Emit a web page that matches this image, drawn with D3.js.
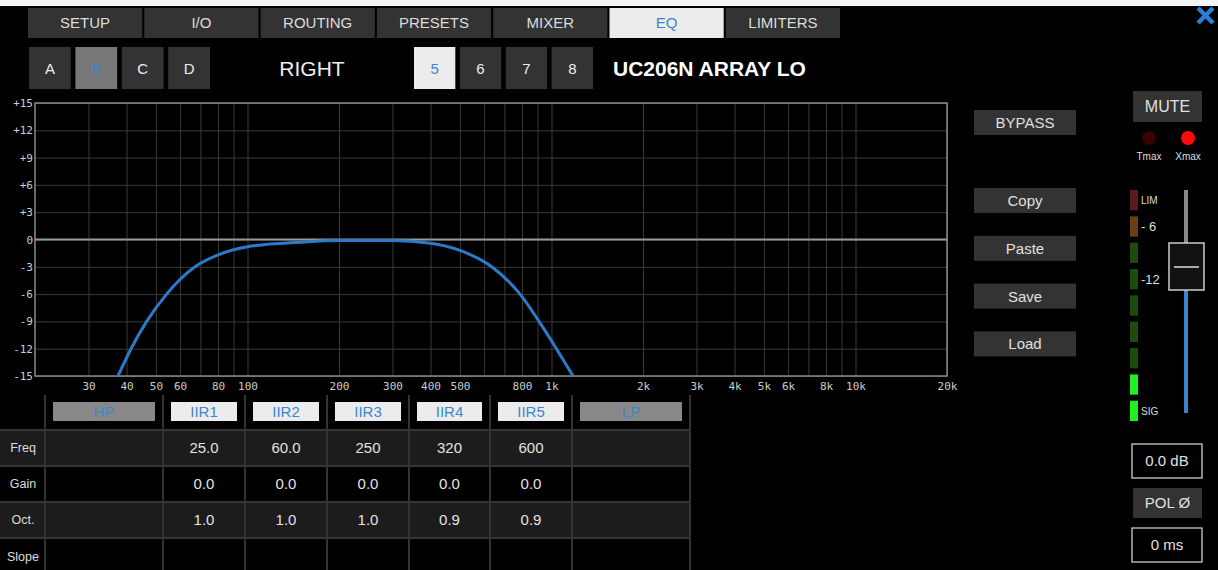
<!DOCTYPE html>
<html>
<head>
<meta charset="utf-8">
<script src="https://cdn.jsdelivr.net/npm/d3@7"></script>
<style>
  html, body { margin: 0; padding: 0; background: #000; }
  svg { display: block; font-family: "Liberation Sans", Arial, sans-serif; }
</style>
</head>
<body>
<div id="eq"></div>
<script>
// ---- data ----
const tabs = ["SETUP", "I/O", "ROUTING", "PRESETS", "MIXER", "EQ", "LIMITERS"];
const activeTab = "EQ";
const groups = ["A", "B", "C", "D"];
const activeGroup = "B";
const outputs = ["5", "6", "7", "8"];
const activeOutput = "5";
const sideLabel = "RIGHT";
const channelName = "UC206N ARRAY LO";

const freqLabels = [30, 40, 50, 60, 80, 100, 200, 300, 400, 500, 800, 1000, 2000, 3000, 4000, 5000, 6000, 8000, 10000, 20000];
const gridFreqs = [30, 40, 50, 60, 70, 80, 90, 100, 200, 300, 400, 500, 600, 700, 800, 900,
                   1000, 2000, 3000, 4000, 5000, 6000, 7000, 8000, 9000, 10000, 20000];
const dbTicks = [15, 12, 9, 6, 3, 0, -3, -6, -9, -12, -15];

// response curve, [Hz, dB]
const responseFreq = [37.5, 41.4, 46.6, 54.2, 67.2, 80, 100, 150, 200, 300, 400, 500, 636, 788, 910, 1038, 1177];
const responseGain = [-15, -12, -9, -6, -3, -1.7, -0.8, -0.3, -0.12, -0.12, -0.4, -1.2, -3, -6, -9, -12, -15];

const filters = ["HP", "IIR1", "IIR2", "IIR3", "IIR4", "IIR5", "LP"];
const filterOn = [false, true, true, true, true, true, false];
const rowNames = ["Freq", "Gain", "Oct.", "Slope"];
const freqVals = ["", "25.0", "60.0", "250", "320", "600", ""];
const gainVals = ["", "0.0", "0.0", "0.0", "0.0", "0.0", ""];
const octVals = ["", "1.0", "1.0", "1.0", "0.9", "0.9", ""];
const slopeVals = ["", "", "", "", "", "", ""];

const actions = ["Copy", "Paste", "Save", "Load"];
const meterSegs = ["LIM", "-6", "g", "-12", "g", "g", "g", "sig", "SIG"];
const meterColors = { "LIM": "#5a1c1c", "-6": "#6b3e16", "-12": "#1f4a10", "g": "#1f4a10", "sig": "#22ee22", "SIG": "#22ee22" };
const meterText = { "LIM": "LIM", "-6": "- 6", "-12": "-12", "SIG": "SIG" };
const gainText = "0.0 dB";
const delayText = "0 ms";

// ---- drawing ----
const W = 1218, H = 570;
const blue = "#3a86d0";
const svg = d3.select("#eq").append("svg").attr("width", W).attr("height", H);
svg.append("rect").attr("width", W).attr("height", H).attr("fill", "#000");
svg.append("rect").attr("width", W).attr("height", 6).attr("fill", "#f4f4f4");

// top tabs
const tabX = d3.scaleBand().domain(tabs).range([28, 840]).paddingInner(0.018);
const tab = svg.selectAll(".tab").data(tabs).join("g").attr("class", "tab")
  .attr("transform", d => `translate(${tabX(d)},8)`);
tab.append("rect").attr("width", tabX.bandwidth()).attr("height", 30)
  .attr("fill", d => d === activeTab ? "#ececec" : "#333");
tab.append("text").attr("x", tabX.bandwidth() / 2).attr("y", 20).attr("text-anchor", "middle")
  .attr("font-size", 15).attr("fill", d => d === activeTab ? blue : "#ddd").text(d => d);

// close X
svg.append("path").attr("d", "M1198,8 L1213,23 M1213,8 L1198,23")
  .attr("stroke", "#2a7fd4").attr("stroke-width", 4.5);

// selector buttons
function buttons(list, active, x0, x1) {
  const bx = d3.scaleBand().domain(list).range([x0, x1]).paddingInner(0.1);
  const g = svg.append("g").selectAll("g").data(list).join("g")
    .attr("transform", d => `translate(${bx(d)},47)`);
  g.append("rect").attr("width", bx.bandwidth()).attr("height", 42)
    .attr("fill", d => d === active ? (list === groups ? "#777" : "#ececec") : "#333");
  g.append("text").attr("x", bx.bandwidth() / 2).attr("y", 27).attr("text-anchor", "middle")
    .attr("font-size", 15).attr("fill", d => d === active ? blue : "#eee").text(d => d);
}
buttons(groups, activeGroup, 29, 210);
buttons(outputs, activeOutput, 414, 593);
svg.append("text").attr("x", 312).attr("y", 76).attr("text-anchor", "middle")
  .attr("font-size", 21).attr("fill", "#eee").text(sideLabel);
svg.append("text").attr("x", 613).attr("y", 76).attr("font-size", 21).attr("font-weight", "bold")
  .attr("fill", "#fff").text(channelName);

// EQ plot
const x = d3.scaleLog().domain([20, 20000]).range([35, 947]);
const y = d3.scaleLinear().domain([-15, 15]).range([376, 103]);
const plot = svg.append("g");
plot.append("g").attr("transform", "translate(0,376)")
  .call(d3.axisBottom(x).tickValues(gridFreqs).tickSize(-(376 - 103)).tickFormat(""))
  .call(g => g.select(".domain").remove())
  .call(g => g.selectAll("line").attr("stroke", "#3a3a3a"));
plot.append("g").attr("transform", "translate(35,0)")
  .call(d3.axisLeft(y).tickValues(dbTicks).tickSize(-(947 - 35)).tickFormat(""))
  .call(g => g.select(".domain").remove())
  .call(g => g.selectAll("line").attr("stroke", "#3a3a3a"));
plot.append("rect").attr("x", 35).attr("y", 103).attr("width", 947 - 35).attr("height", 376 - 103)
  .attr("fill", "none").attr("stroke", "#8a8a8a").attr("stroke-width", 1.5);
plot.append("line").attr("x1", 35).attr("x2", 947).attr("y1", y(0)).attr("y2", y(0))
  .attr("stroke", "#999").attr("stroke-width", 2);

const fmtHz = d => d >= 1000 ? (d / 1000) + "k" : String(d);
plot.append("g").attr("transform", "translate(0,376)")
  .call(d3.axisBottom(x).tickValues(freqLabels).tickSize(0).tickPadding(6).tickFormat(fmtHz))
  .call(g => g.select(".domain").remove())
  .call(g => g.selectAll("text").attr("fill", "#ccc").attr("font-size", 11)
    .attr("font-family", "'DejaVu Sans Mono', monospace"));
plot.append("g").attr("transform", "translate(33,0)")
  .call(d3.axisLeft(y).tickValues(dbTicks).tickSize(0).tickPadding(0)
    .tickFormat(d => d > 0 ? "+" + d : String(d)))
  .call(g => g.select(".domain").remove())
  .call(g => g.selectAll("text").attr("fill", "#ccc").attr("font-size", 11)
    .attr("font-family", "'DejaVu Sans Mono', monospace"));

svg.append("clipPath").attr("id", "plotClip").append("rect")
  .attr("x", 35).attr("y", 103).attr("width", 912).attr("height", 274);
const line = d3.line().x(d => x(d[0])).y(d => y(d[1])).curve(d3.curveMonotoneX);
plot.append("path").datum(d3.zip(responseFreq, responseGain))
  .attr("clip-path", "url(#plotClip)")
  .attr("d", line).attr("fill", "none").attr("stroke", "#2c7bcb").attr("stroke-width", 3);

// filter table
const colEdges = [0, 45, 163, 245, 327, 409, 490, 572, 690];
const rowEdges = [395, 430, 466, 502, 538, 575];
const rowFill = ["#000", "#1c1c1c", "#000", "#1c1c1c", "#000"];
const table = svg.append("g");
rowFill.forEach((f, r) => {
  table.append("rect").attr("x", 0).attr("y", rowEdges[r]).attr("width", 690)
    .attr("height", rowEdges[r + 1] - rowEdges[r]).attr("fill", f);
});
table.selectAll(".hl").data(rowEdges.slice(1, 5)).join("line")
  .attr("x1", 0).attr("x2", 690).attr("y1", d => d).attr("y2", d => d)
  .attr("stroke", "#333").attr("stroke-width", 2);
table.selectAll(".vl").data(colEdges.slice(1)).join("line")
  .attr("x1", d => d).attr("x2", d => d).attr("y1", 395).attr("y2", 575)
  .attr("stroke", "#333").attr("stroke-width", 2);

const hdr = table.selectAll(".hdr").data(filters).join("g")
  .attr("transform", (d, i) => `translate(${colEdges[i + 1] + 8},402)`);
hdr.append("rect").attr("width", (d, i) => colEdges[i + 2] - colEdges[i + 1] - 16).attr("height", 19)
  .attr("fill", (d, i) => filterOn[i] ? "#ececec" : "#888");
hdr.append("text").attr("x", (d, i) => (colEdges[i + 2] - colEdges[i + 1] - 16) / 2).attr("y", 15)
  .attr("text-anchor", "middle").attr("font-size", 15).attr("fill", blue).text(d => d);

table.selectAll(".rn").data(rowNames).join("text")
  .attr("x", 23).attr("y", (d, i) => (rowEdges[i + 1] + rowEdges[i + 2]) / 2 + 4)
  .attr("text-anchor", "middle").attr("font-size", 12.5).attr("fill", "#ddd").text(d => d);
[freqVals, gainVals, octVals, slopeVals].forEach((vals, r) => {
  table.append("g").selectAll("text").data(vals).join("text")
    .attr("x", (d, i) => (colEdges[i + 1] + colEdges[i + 2]) / 2)
    .attr("y", (rowEdges[r + 1] + rowEdges[r + 2]) / 2 + 5)
    .attr("text-anchor", "middle").attr("font-size", 15).attr("fill", "#e2e2e2").text(d => d);
});

// right-hand buttons
function button(label, x0, y0, w, h, size) {
  svg.append("rect").attr("x", x0).attr("y", y0).attr("width", w).attr("height", h).attr("fill", "#333");
  svg.append("text").attr("x", x0 + w / 2).attr("y", y0 + h / 2 + size * 0.36).attr("text-anchor", "middle")
    .attr("font-size", size).attr("fill", "#e0e0e0").text(label);
}
button("BYPASS", 974, 110, 102, 25, 15);
actions.forEach((a, i) => button(a, 974, 188 + i * 47.8, 102, 25, 15));
button("MUTE", 1133, 91, 69, 31, 16);

// LEDs
svg.append("circle").attr("cx", 1149).attr("cy", 138).attr("r", 7).attr("fill", "#3a0000");
svg.append("circle").attr("cx", 1188).attr("cy", 138).attr("r", 7).attr("fill", "#ff0a0a");
svg.append("text").attr("x", 1149).attr("y", 160).attr("text-anchor", "middle").attr("font-size", 10)
  .attr("fill", "#ddd").text("Tmax");
svg.append("text").attr("x", 1188).attr("y", 160).attr("text-anchor", "middle").attr("font-size", 10)
  .attr("fill", "#ddd").text("Xmax");

// level meter
const segY = d3.scaleBand().domain(d3.range(meterSegs.length)).range([190, 421]).paddingInner(0.23);
svg.append("g").selectAll("rect").data(meterSegs).join("rect")
  .attr("x", 1130).attr("y", (d, i) => segY(i)).attr("width", 8).attr("height", segY.bandwidth())
  .attr("fill", d => meterColors[d]);
svg.append("g").selectAll("text").data(meterSegs).join("text")
  .attr("x", 1141).attr("y", (d, i) => segY(i) + segY.bandwidth() / 2 + (d === "LIM" || d === "SIG" ? 4 : 5))
  .attr("font-size", d => d === "LIM" || d === "SIG" ? 10 : 13).attr("fill", "#ddd")
  .text(d => meterText[d] || "");

// fader
svg.append("rect").attr("x", 1184).attr("y", 190).attr("width", 4).attr("height", 55).attr("fill", "#8a8a8a");
svg.append("rect").attr("x", 1184).attr("y", 288).attr("width", 4).attr("height", 125).attr("fill", "#3a86d0");
svg.append("rect").attr("x", 1169).attr("y", 243).attr("width", 35).attr("height", 47)
  .attr("fill", "#111").attr("stroke", "#ccc").attr("stroke-width", 1.5);
svg.append("line").attr("x1", 1174).attr("x2", 1199).attr("y1", 267).attr("y2", 267)
  .attr("stroke", "#aaa").attr("stroke-width", 2);

// gain / polarity / delay
function box(label, y0) {
  svg.append("rect").attr("x", 1132).attr("y", y0).attr("width", 70).attr("height", 34)
    .attr("fill", "#000").attr("stroke", "#ccc").attr("stroke-width", 1.3);
  svg.append("text").attr("x", 1167).attr("y", y0 + 22).attr("text-anchor", "middle")
    .attr("font-size", 15).attr("fill", "#e0e0e0").text(label);
}
box(gainText, 444);
button("POL Ø", 1133, 488, 69, 30, 15);
box(delayText, 528);
</script>
</body>
</html>
